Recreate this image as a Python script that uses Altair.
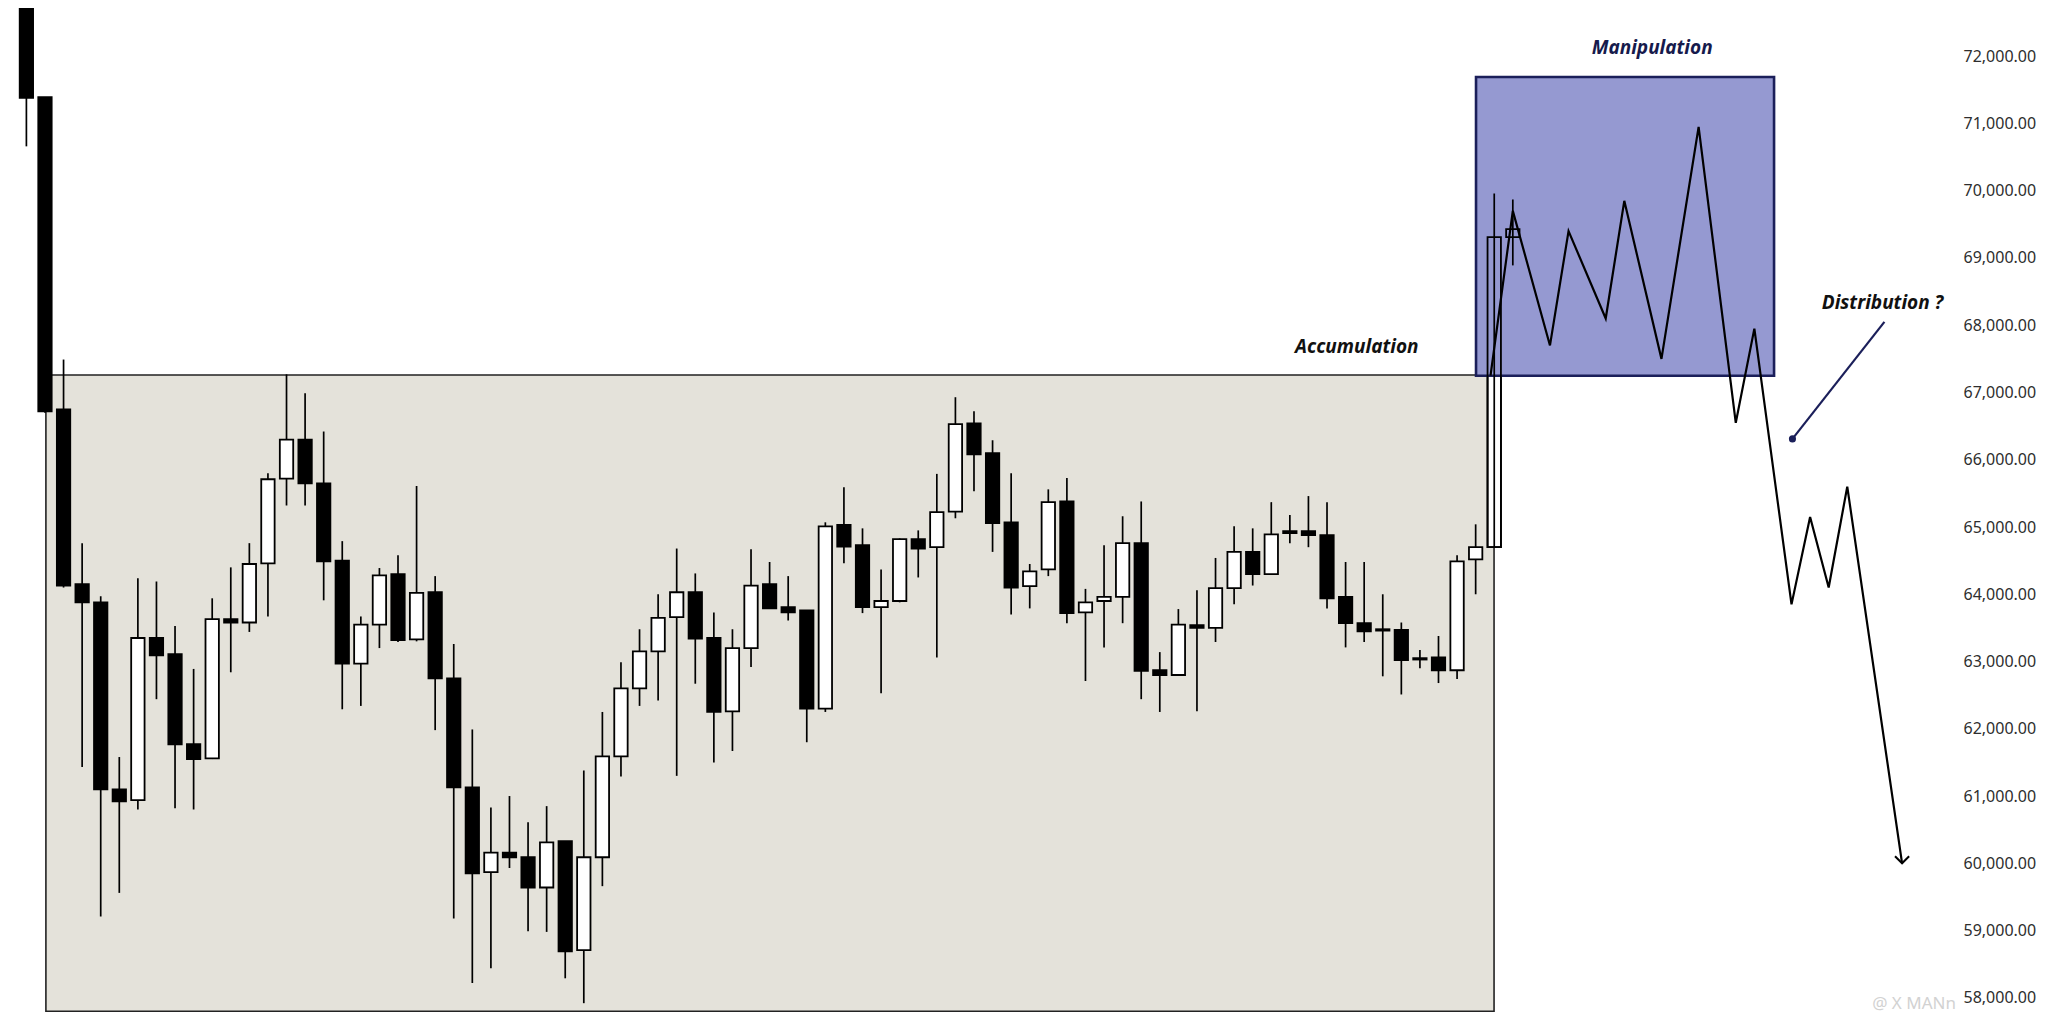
import altair as alt
import pandas as pd

# ---------------- candle data ----------------
candle_idx = list(range(1, 82))
opens = [73300, 71390, 66750, 64150, 63880, 61100, 60940, 63350, 63110, 61770,
         61560, 63630, 63580, 64460, 65720, 66300, 65650, 64500, 62970, 63550,
         64300, 63330, 64030, 62750, 61130, 59870, 60160, 60090, 59640, 60330,
         58710, 60090, 61590, 62600, 63150, 63660, 64030, 63350, 62260, 63200,
         64150, 63810, 63760, 62300, 65030, 64730, 63810, 63900, 64820, 64700,
         65230, 66540, 66100, 65070, 64120, 64370, 65380, 63730, 63900, 63960,
         64760, 62870, 62800, 63540, 63500, 64090, 64630, 64300, 64940, 64940,
         64880, 63960, 63570, 63480, 63470, 63050, 63060, 62870, 64520, 64700,
         69310]
highs = [73300, 71390, 67490, 64760, 63970, 61580, 64240, 64190, 63530, 62890,
         63940, 64400, 64760, 65800, 67270, 66990, 66420, 64790, 63670, 64390,
         64580, 65610, 64270, 63260, 61990, 60830, 61000, 60610, 60850, 60330,
         61380, 62250, 62990, 63480, 64000, 64680, 64310, 63730, 63480, 64670,
         64480, 64270, 63760, 65070, 65590, 64980, 64370, 64830, 64950, 65790,
         66930, 66720, 66290, 65800, 64450, 65560, 65730, 64080, 64730, 65160,
         65380, 63140, 63780, 64060, 64540, 65010, 64980, 65370, 65180, 65460,
         65370, 64480, 64480, 64000, 63580, 63170, 63380, 64580, 65040, 69960,
         69870]
lows = [70660, 66700, 64100, 61430, 59210, 59560, 60800, 62440, 60820, 60800,
        61550, 62840, 63440, 63670, 65320, 65320, 63910, 62290, 62340, 63200,
        63290, 63300, 61980, 59180, 58220, 58440, 59930, 58990, 58980, 58290,
        57920, 59660, 61290, 62340, 62420, 61300, 62670, 61500, 61670, 62920,
        63790, 63610, 61800, 62250, 64460, 63720, 62530, 63880, 64250, 63060,
        65130, 65530, 64630, 63700, 63790, 64270, 63570, 62710, 63210, 63570,
        62440, 62250, 62800, 62260, 63290, 63850, 64130, 64300, 64760, 64700,
        63790, 63210, 63290, 62780, 62510, 62900, 62680, 62740, 64000, 64700,
        68890]
closes = [71380, 66720, 64130, 63880, 61100, 60920, 63350, 63090, 61770, 61550,
          63630, 63580, 64450, 65710, 66300, 65650, 64490, 62970, 63550, 64280,
          63320, 64020, 62750, 61130, 59850, 60160, 60090, 59640, 60310, 58690,
          60090, 61590, 62600, 63150, 63650, 64030, 63340, 62250, 63200, 64130,
          63790, 63730, 62300, 65010, 64710, 63810, 63900, 64820, 64680, 65220,
          66530, 66080, 65060, 64100, 64340, 65370, 63720, 63880, 63960, 64760,
          62860, 62800, 63550, 63500, 64090, 64630, 64300, 64890, 64910, 64880,
          63940, 63570, 63450, 63460, 63020, 63030, 62870, 64490, 64700, 69310,
          69430]

# ---------------- zones ----------------
zone_names = ["Accumulation", "Manipulation"]
zone_x1 = [2.05, 79.02]
zone_x2 = [79.99, 95.06]
zone_lo = [57800, 67250]
zone_hi = [67260, 71690]

# ---------------- projected path ----------------
path_x = [79.8, 81, 83, 84, 86, 87, 89, 91, 93, 94, 96, 97, 98, 99, 101.95]
path_y = [67250, 69700, 67700, 69400, 68100, 69850, 67500, 70950, 66550, 67950,
          63850, 65150, 64100, 65600, 60000]
head_x = [101.57, 101.95, 102.33]
head_y = [60105, 60000, 60105]

pointer_x = [96.05, 101.0]
pointer_y = [66310, 68050]

# ---------------- labels ----------------
label_text = ["Manipulation", "Accumulation", "Distribution ?"]
label_x = [88.5, 72.6, 100.9]
label_y = [72120, 67680, 68330]
label_color = ["#161a4c", "#111111", "#111111"]

price_ticks = [58000, 59000, 60000, 61000, 62000, 63000, 64000, 65000,
               66000, 67000, 68000, 69000, 70000, 71000, 72000]

# ---------------- build ----------------
df = pd.DataFrame({"i": candle_idx, "o": opens, "h": highs, "l": lows, "c": closes})
zones = pd.DataFrame({"name": zone_names, "x1": zone_x1, "x2": zone_x2,
                      "lo": zone_lo, "hi": zone_hi})
path = pd.DataFrame({"x": path_x, "y": path_y, "n": list(range(len(path_x)))})
head = pd.DataFrame({"x": head_x, "y": head_y, "n": list(range(len(head_x)))})
pointer = pd.DataFrame({"x": pointer_x, "y": pointer_y})
dot = pointer.iloc[[0]]
labels = pd.DataFrame({"t": label_text, "x": label_x, "y": label_y, "col": label_color})
wm = pd.DataFrame({"t": ["@ X MANn"], "x": [104.85], "y": [57910]})

xs = alt.Scale(domain=[0.01, 104.96], nice=False, zero=False)
ys = alt.Scale(domain=[57670, 72717], nice=False, zero=False)
yaxis = alt.Axis(orient="right", values=price_ticks, format=",.2f",
                 labelFont="Noto Sans", labelFontSize=16, labelColor="#2e2e2e",
                 ticks=False, domain=False, grid=False, labelPadding=5,
                 labelAlign="left", labelBaseline="middle", title=None)


def X(f):
    return alt.X(f, scale=xs, axis=None)


def Y(f):
    return alt.Y(f, scale=ys, axis=yaxis)


acc = alt.Chart(zones).transform_filter("datum.name == 'Accumulation'").mark_rect(
    fill="#e4e2da", stroke="#222222", strokeWidth=1.6
).encode(x=X("x1:Q"), x2="x2:Q", y=Y("lo:Q"), y2="hi:Q")

wicks = alt.Chart(df).mark_rule(color="black", strokeWidth=1.7, clip=True).encode(
    x=X("i:Q"), y=Y("l:Q"), y2="h:Q"
)

bodies = alt.Chart(df).transform_calculate(
    bx1="datum.i - 0.36", bx2="datum.i + 0.36"
).mark_rect(stroke="black", strokeWidth=1.8, clip=True).encode(
    x=X("bx1:Q"), x2="bx2:Q", y=Y("o:Q"), y2="c:Q",
    fill=alt.condition("datum.c > datum.o", alt.value("white"), alt.value("black")),
)

manip = alt.Chart(zones).transform_filter("datum.name == 'Manipulation'").mark_rect(
    fill="#9599d1", stroke="#1b1f5a", strokeWidth=2.6
).encode(x=X("x1:Q"), x2="x2:Q", y=Y("lo:Q"), y2="hi:Q")

wicks_top = alt.Chart(df).transform_filter("datum.i >= 80").mark_rule(
    color="black", strokeWidth=1.7
).encode(x=X("i:Q"), y=Y("l:Q"), y2="h:Q")

bodies_top = alt.Chart(df).transform_filter("datum.i >= 80").transform_calculate(
    bx1="datum.i - 0.36", bx2="datum.i + 0.36"
).mark_rect(stroke="black", strokeWidth=1.8, fillOpacity=0).encode(
    x=X("bx1:Q"), x2="bx2:Q", y=Y("o:Q"), y2="c:Q"
)

zig = alt.Chart(path).mark_line(color="black", strokeWidth=2.2, strokeJoin="miter").encode(
    x=X("x:Q"), y=Y("y:Q"), order="n:Q"
)

arrow = alt.Chart(head).mark_line(color="black", strokeWidth=2).encode(
    x=X("x:Q"), y=Y("y:Q"), order="n:Q"
)

ptr = alt.Chart(pointer).mark_line(color="#1b1f5a", strokeWidth=2.2).encode(
    x=X("x:Q"), y=Y("y:Q")
)

ptr_dot = alt.Chart(dot).mark_circle(color="#1b1f5a", size=50, opacity=1).encode(
    x=X("x:Q"), y=Y("y:Q")
)

txt = alt.Chart(labels).mark_text(
    font="Noto Sans", fontSize=19, fontWeight="bold", fontStyle="italic",
    align="center", baseline="middle"
).encode(
    x=X("x:Q"), y=Y("y:Q"), text="t:N",
    color=alt.Color("col:N", scale=None),
)

watermark = alt.Chart(wm).mark_text(
    font="Noto Sans", fontSize=17, align="right", baseline="middle", color="#d2d2d2"
).encode(x=X("x:Q"), y=Y("y:Q"), text="t:N")

chart = alt.layer(
    acc, wicks, bodies, manip, wicks_top, bodies_top, zig, arrow, ptr, ptr_dot, txt, watermark
).properties(
    width=1950, height=1012, padding=0, background="white"
).configure_view(stroke=None)

chart.save("out.html", embed_options={"renderer": "svg", "actions": False})
